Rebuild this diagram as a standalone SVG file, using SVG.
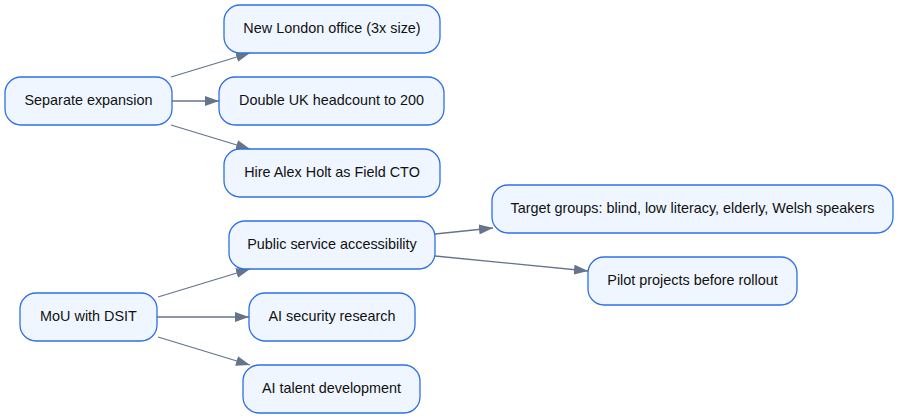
<svg xmlns="http://www.w3.org/2000/svg" width="899" height="419" viewBox="0 0 899 419">
<style>
.n rect{fill:#eff6ff;stroke:#2f6fea;stroke-width:1.3}
.n text{font-family:"Liberation Sans",Arial,sans-serif;font-size:14.4px;fill:#111111;text-anchor:middle;dominant-baseline:central}
.e line{stroke:#64748b;stroke-width:1.3;marker-end:url(#a)}
</style>
<defs>
<marker id="a" viewBox="0 0 14 10" refX="14" refY="5" markerWidth="14" markerHeight="10" markerUnits="userSpaceOnUse" orient="auto">
<path d="M0,0 L14,5 L0,10 z" fill="#64748b"/>
</marker>
</defs>
<rect width="899" height="419" fill="#ffffff"/>
<g id="edges" class="e">
<line x1="171" y1="77" x2="250" y2="53"/>
<line x1="172" y1="101" x2="219" y2="101"/>
<line x1="171" y1="125" x2="250" y2="149"/>
<line x1="158" y1="297" x2="250" y2="269"/>
<line x1="157" y1="317" x2="249" y2="317"/>
<line x1="158" y1="337" x2="250" y2="365"/>
<line x1="435" y1="234" x2="493" y2="228"/>
<line x1="435" y1="256" x2="588" y2="271"/>
</g>
<g id="n1" class="n"><rect x="5" y="77" width="167" height="48" rx="16"/><text x="88.5" y="100">Separate expansion</text></g>
<g id="n2" class="n"><rect x="224" y="5" width="216" height="48" rx="16"/><text x="332" y="28">New London office (3x size)</text></g>
<g id="n3" class="n"><rect x="219" y="77" width="225" height="48" rx="16"/><text x="331.5" y="100">Double UK headcount to 200</text></g>
<g id="n4" class="n"><rect x="224" y="149" width="216" height="48" rx="16"/><text x="332" y="172">Hire Alex Holt as Field CTO</text></g>
<g id="n5" class="n"><rect x="20" y="293" width="137" height="48" rx="16"/><text x="88.5" y="316">MoU with DSIT</text></g>
<g id="n6" class="n"><rect x="229" y="221" width="206" height="48" rx="16"/><text x="332" y="244">Public service accessibility</text></g>
<g id="n7" class="n"><rect x="249" y="293" width="166" height="48" rx="16"/><text x="332" y="316">AI security research</text></g>
<g id="n8" class="n"><rect x="243" y="365" width="177" height="48" rx="16"/><text x="331.5" y="388">AI talent development</text></g>
<g id="n9" class="n"><rect x="492" y="185" width="401" height="48" rx="16"/><text x="692.5" y="208">Target groups: blind, low literacy, elderly, Welsh speakers</text></g>
<g id="n10" class="n"><rect x="588" y="257" width="209" height="48" rx="16"/><text x="692.5" y="280">Pilot projects before rollout</text></g>
</svg>
